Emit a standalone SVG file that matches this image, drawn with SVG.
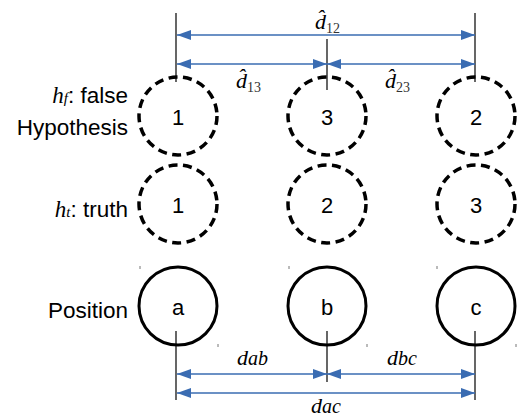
<svg xmlns="http://www.w3.org/2000/svg" width="520" height="419" viewBox="0 0 520 419">
<defs>
<marker id="ah" viewBox="0 0 14 10" refX="14" refY="5" markerWidth="14" markerHeight="10" markerUnits="userSpaceOnUse" orient="auto-start-reverse">
<path d="M0,0 L14,5 L0,10 z" fill="#3a6cb2"/>
</marker>
<style>
.dash{fill:none;stroke:#000;stroke-width:3.5;stroke-dasharray:9 5.5}
.solid{fill:none;stroke:#000;stroke-width:3}
.lbl{font-family:"Liberation Sans",Arial,sans-serif;font-size:22.5px;fill:#000}
.num{font-family:"Liberation Sans",Arial,sans-serif;font-size:22px;fill:#000;text-anchor:middle}
.m{font-family:"Liberation Serif","Times New Roman",serif;font-style:italic;fill:#000}
.sub{font-family:"Liberation Serif","Times New Roman",serif;font-style:normal;fill:#333}
.ext{stroke:#000;stroke-width:1.2}
.dim{stroke:#3a6cb2;stroke-width:1.5;fill:none;marker-start:url(#ah);marker-end:url(#ah)}
.tick{stroke:#777;stroke-width:1}
</style>
</defs>
<rect width="520" height="419" fill="#fff"/>

<g id="labels">
<text class="lbl" x="128" y="103" text-anchor="end"><tspan class="m" font-size="23">h</tspan><tspan class="m" font-size="15">f</tspan><tspan>: false</tspan></text>
<text class="lbl" x="128" y="135" text-anchor="end">Hypothesis</text>
<text class="lbl" x="128" y="217" text-anchor="end"><tspan class="m" font-size="23">h</tspan><tspan class="m" font-size="15">t</tspan><tspan>: truth</tspan></text>
<text class="lbl" x="128" y="318" text-anchor="end">Position</text>
</g>

<g id="hf1"><circle class="dash" cx="178" cy="116" r="39"/><text class="num" x="178" y="125">1</text></g>
<g id="hf3"><circle class="dash" cx="327" cy="116" r="39"/><text class="num" x="327" y="125">3</text></g>
<g id="hf2"><circle class="dash" cx="476" cy="116" r="39"/><text class="num" x="476" y="125">2</text></g>

<g id="ht1"><circle class="dash" cx="178" cy="204" r="39"/><text class="num" x="178" y="213">1</text></g>
<g id="ht2"><circle class="dash" cx="327" cy="204" r="39"/><text class="num" x="327" y="213">2</text></g>
<g id="ht3"><circle class="dash" cx="476" cy="204" r="39"/><text class="num" x="476" y="213">3</text></g>

<g id="pa"><circle class="solid" cx="178" cy="306" r="39"/><text class="num" x="178" y="315">a</text></g>
<g id="pb"><circle class="solid" cx="327" cy="306" r="39"/><text class="num" x="327" y="315">b</text></g>
<g id="pc"><circle class="solid" cx="476" cy="306" r="39"/><text class="num" x="476" y="315">c</text></g>

<g id="ticks">
<line class="tick" x1="140" y1="266" x2="140" y2="269"/>
<line class="tick" x1="218" y1="344" x2="218" y2="347"/>
<line class="tick" x1="289" y1="266" x2="289" y2="269"/>
<line class="tick" x1="367" y1="344" x2="367" y2="347"/>
<line class="tick" x1="437" y1="266" x2="437" y2="269"/>
<line class="tick" x1="516" y1="344" x2="516" y2="347"/>
</g>

<g id="connectors">
<line class="ext" x1="176" y1="13" x2="176" y2="82"/>
<line class="ext" x1="327" y1="39" x2="327" y2="90"/>
<line class="ext" x1="475" y1="13" x2="475" y2="82"/>
<line class="ext" x1="176" y1="331" x2="176" y2="400"/>
<line class="ext" x1="327" y1="331" x2="327" y2="382"/>
<line class="ext" x1="475" y1="331" x2="475" y2="400"/>
<line class="dim" x1="177" y1="35" x2="475" y2="35"/>
<line class="dim" x1="177" y1="64" x2="327" y2="64"/>
<line class="dim" x1="327" y1="64" x2="475" y2="64"/>
<line class="dim" x1="177" y1="374" x2="327" y2="374"/>
<line class="dim" x1="327" y1="374" x2="475" y2="374"/>
<line class="dim" x1="177" y1="393" x2="475" y2="393"/>
</g>

<g id="dimlabels">
<text class="m" x="315" y="29" font-size="22">d&#x302;<tspan class="sub" font-size="14" dy="4">12</tspan></text>
<text class="m" x="236" y="88" font-size="22">d&#x302;<tspan class="sub" font-size="14" dy="4">13</tspan></text>
<text class="m" x="385" y="88" font-size="22">d&#x302;<tspan class="sub" font-size="14" dy="4">23</tspan></text>
<text class="m" x="237" y="365" font-size="22">d<tspan font-size="20">ab</tspan></text>
<text class="m" x="387" y="365" font-size="22">d<tspan font-size="20">bc</tspan></text>
<text class="m" x="311" y="413" font-size="22">d<tspan font-size="20">ac</tspan></text>
</g>
</svg>
